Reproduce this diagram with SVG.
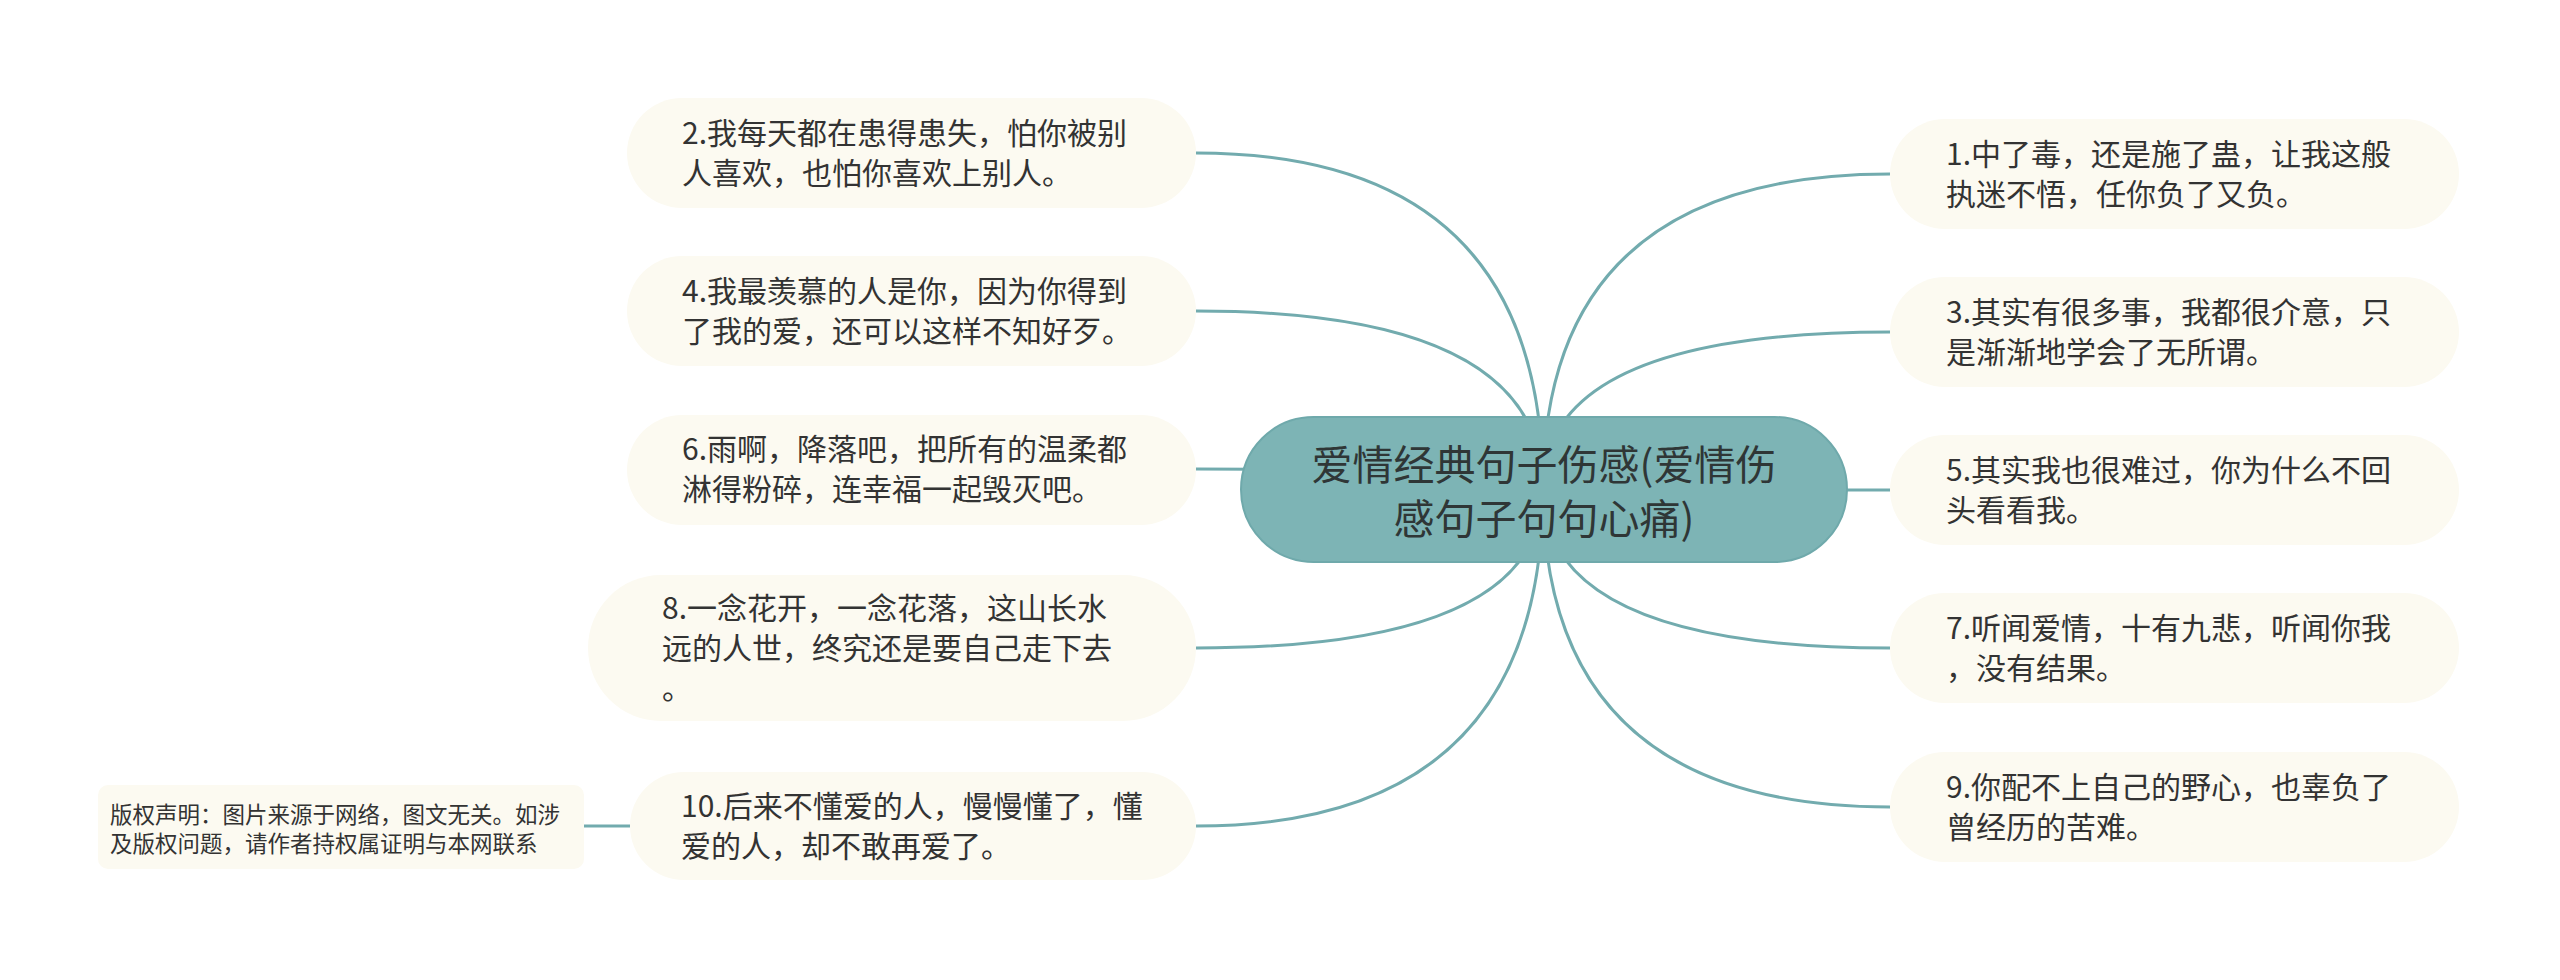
<svg xmlns="http://www.w3.org/2000/svg" width="2560" height="980" viewBox="0 0 2560 980">
<style>
.bg{fill:#ffffff}
.edge{fill:none;stroke:#72abae;stroke-width:3}
.box{fill:#fcfaf1}
.root{fill:#7db4b5;stroke:#6fa9ab;stroke-width:2}
.t{font-family:"Noto Sans CJK SC","Noto Sans",sans-serif;font-size:30px;fill:#333333}
.rt{font-family:"Noto Sans CJK SC","Noto Sans",sans-serif;font-size:41px;fill:#2f3636;text-anchor:middle}
.ct{font-family:"Noto Sans CJK SC","Noto Sans",sans-serif;font-size:22.5px;fill:#333333}
</style>
<rect class="bg" x="0" y="0" width="2560" height="980"/>
<g id="connectors">
<path class="edge" d="M1543,489 Q1543,153 1196,153"/>
<path class="edge" d="M1543,489 Q1543,311 1196,311"/>
<path class="edge" d="M1543,489 Q1543,469 1196,469"/>
<path class="edge" d="M1543,489 Q1543,648 1196,648"/>
<path class="edge" d="M1543,489 Q1543,826 1196,826"/>
<path class="edge" d="M1543,489 Q1543,174 1890,174"/>
<path class="edge" d="M1543,489 Q1543,332 1890,332"/>
<path class="edge" d="M1543,489 Q1543,490 1890,490"/>
<path class="edge" d="M1543,489 Q1543,648 1890,648"/>
<path class="edge" d="M1543,489 Q1543,807 1890,807"/>
<path class="edge" d="M584,826 L630,826"/>
</g>
<g id="root">
<rect class="root" x="1241" y="417" width="606" height="145" rx="72.5"/>
<text class="rt" x="1544" y="480">爱情经典句子伤感(爱情伤</text>
<text class="rt" x="1544" y="534">感句子句句心痛)</text>
</g>
<g id="n2">
<rect class="box" x="627" y="98" width="569" height="110" rx="55"/>
<text class="t" x="682" y="144">2.我每天都在患得患失，怕你被别</text>
<text class="t" x="682" y="184">人喜欢，也怕你喜欢上别人。</text>
</g>
<g id="n4">
<rect class="box" x="627" y="256" width="569" height="110" rx="55"/>
<text class="t" x="682" y="302">4.我最羡慕的人是你，因为你得到</text>
<text class="t" x="682" y="342">了我的爱，还可以这样不知好歹。</text>
</g>
<g id="n6">
<rect class="box" x="627" y="415" width="569" height="110" rx="55"/>
<text class="t" x="682" y="460">6.雨啊，降落吧，把所有的温柔都</text>
<text class="t" x="682" y="500">淋得粉碎，连幸福一起毁灭吧。</text>
</g>
<g id="n8">
<rect class="box" x="588" y="575" width="608" height="146" rx="73"/>
<text class="t" x="662" y="619">8.一念花开，一念花落，这山长水</text>
<text class="t" x="662" y="659">远的人世，终究还是要自己走下去</text>
<text class="t" x="662" y="699">。</text>
</g>
<g id="n10">
<rect class="box" x="630" y="772" width="566" height="108" rx="54"/>
<text class="t" x="681" y="817">10.后来不懂爱的人，慢慢懂了，懂</text>
<text class="t" x="681" y="857">爱的人，却不敢再爱了。</text>
</g>
<g id="copyright">
<rect class="box" x="98" y="785" width="486" height="84" rx="10"/>
<text class="ct" x="110" y="823">版权声明：图片来源于网络，图文无关。如涉</text>
<text class="ct" x="110" y="852">及版权问题，请作者持权属证明与本网联系</text>
</g>
<g id="n1">
<rect class="box" x="1890" y="119" width="569" height="110" rx="55"/>
<text class="t" x="1946" y="165">1.中了毒，还是施了蛊，让我这般</text>
<text class="t" x="1946" y="205">执迷不悟，任你负了又负。</text>
</g>
<g id="n3">
<rect class="box" x="1890" y="277" width="569" height="110" rx="55"/>
<text class="t" x="1946" y="323">3.其实有很多事，我都很介意，只</text>
<text class="t" x="1946" y="363">是渐渐地学会了无所谓。</text>
</g>
<g id="n5">
<rect class="box" x="1890" y="435" width="569" height="110" rx="55"/>
<text class="t" x="1946" y="481">5.其实我也很难过，你为什么不回</text>
<text class="t" x="1946" y="521">头看看我。</text>
</g>
<g id="n7">
<rect class="box" x="1890" y="593" width="569" height="110" rx="55"/>
<text class="t" x="1946" y="639">7.听闻爱情，十有九悲，听闻你我</text>
<text class="t" x="1946" y="679">，没有结果。</text>
</g>
<g id="n9">
<rect class="box" x="1890" y="752" width="569" height="110" rx="55"/>
<text class="t" x="1946" y="798">9.你配不上自己的野心，也辜负了</text>
<text class="t" x="1946" y="838">曾经历的苦难。</text>
</g>
</svg>
